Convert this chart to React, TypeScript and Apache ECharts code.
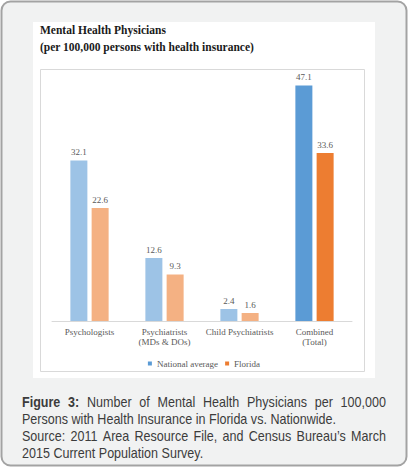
import React, { useEffect, useRef } from "react";
import * as echarts from "echarts";

// Physicians per 100,000 insured persons
const categories = ["Psychologists", "Psychiatrists\n(MDs & DOs)", "Child Psychiatrists", "Combined\n(Total)"];
const nationalAverage = [32.1, 12.6, 2.4, 47.1];
const florida = [22.6, 9.3, 1.6, 33.6];
const seriesNames = ["National average", "Florida"];

const titleLine1 = "Mental Health Physicians";
const titleLine2 = "(per 100,000 persons with health insurance)";

const captionLines = [
  { parts: [{ t: "Figure 3:", b: true }, { t: "Number of Mental Health Physicians per 100,000", b: false }], justify: true },
  { parts: [{ t: "Persons with Health Insurance in Florida vs. Nationwide.", b: false }], justify: false },
  { parts: [{ t: "Source: 2011 Area Resource File, and Census Bureau\u2019s March", b: false }], justify: true },
  { parts: [{ t: "2015 Current Population Survey.", b: false }], justify: false },
];

const SERIF_NAME = "Liberation Serif";
const SERIF = '"Liberation Serif", "DejaVu Serif", serif';
const SANS = '"Liberation Sans", Arial, sans-serif';
const CAP_SIZE = 14;
const CAP_COLOR = "#3c3c3c";
// caption block: left/right edges and the width of the second (unjustified) line
const CAP_X0 = 22;
const CAP_X1 = 386;
const CAP_LINE2_WIDTH = 314;

const blueFull = "#5b9bd5";
const blueLight = "#9dc3e6";
const orangeFull = "#ed7d31";
const orangeLight = "#f4b183";

function capFont(bold: boolean) {
  return `${bold ? "bold " : ""}${CAP_SIZE}px ${SANS}`;
}

function measure(ctx: CanvasRenderingContext2D, text: string, bold: boolean) {
  ctx.font = capFont(bold);
  return ctx.measureText(text).width;
}

function captionGraphics() {
  const canvas = document.createElement("canvas");
  const ctx = canvas.getContext("2d") as CanvasRenderingContext2D;
  // horizontally condensed face
  const scale = CAP_LINE2_WIDTH / measure(ctx, captionLines[1].parts[0].t, false);
  const avail = (CAP_X1 - CAP_X0) / scale;
  const children: any[] = [];
  captionLines.forEach((line, li) => {
    const y = 402 + li * 17;
    const words: { t: string; b: boolean }[] = [];
    line.parts.forEach((p) => p.t.split(" ").forEach((w) => words.push({ t: w, b: p.b })));
    const widths = words.map((w) => measure(ctx, w.t, w.b));
    const total = widths.reduce((a, b) => a + b, 0);
    const space = line.justify ? (avail - total) / (words.length - 1) : measure(ctx, " ", false);
    let x = 0;
    words.forEach((w, i) => {
      children.push({
        type: "text",
        x,
        y,
        style: { text: w.t, fill: CAP_COLOR, font: capFont(w.b), verticalAlign: "middle" },
      });
      x += widths[i] + space;
    });
  });
  return { type: "group", x: CAP_X0, y: 0, scaleX: scale, children };
}

export default function App() {
  const ref = useRef<HTMLDivElement>(null);

  useEffect(() => {
    if (!ref.current) return;
    const chart = echarts.init(ref.current, null, { renderer: "svg" });

    const itemData = (vals: number[], light: string, full: string) =>
      vals.map((v, i) => ({ value: v, itemStyle: { color: i === vals.length - 1 ? full : light } }));

    const labelStyle = {
      show: true,
      position: "top" as const,
      distance: 4,
      fontFamily: SERIF_NAME,
      fontSize: 9,
      color: "#595959",
    };

    chart.setOption({
      animation: false,
      backgroundColor: "transparent",
      textStyle: { fontFamily: SERIF_NAME },
      graphic: [
        {
          type: "rect",
          z: -10,
          shape: { x: 1.5, y: 1.5, width: 405, height: 464, r: 9 },
          style: { fill: "#f1f2f2", stroke: "#a3a3a3", lineWidth: 2 },
        },
        {
          type: "rect",
          z: -9,
          shape: { x: 33, y: 22, width: 342, height: 356 },
          style: { fill: "#ffffff" },
        },
        {
          type: "rect",
          z: -8,
          shape: { x: 40.5, y: 69.5, width: 324, height: 302 },
          style: { fill: "#ffffff", stroke: "#d9d9d9", lineWidth: 1 },
        },
        {
          type: "text",
          x: 40,
          y: 30,
          style: { text: titleLine1, font: `bold 11.5px ${SERIF}`, fill: "#1a1a1a", verticalAlign: "middle" },
        },
        {
          type: "text",
          x: 40,
          y: 47,
          style: { text: titleLine2, font: `bold 11.5px ${SERIF}`, fill: "#1a1a1a", verticalAlign: "middle" },
        },
        captionGraphics(),
      ],
      legend: {
        data: seriesNames,
        top: 354,
        left: "center",
        itemWidth: 4,
        itemHeight: 4,
        itemGap: 7,
        icon: "rect",
        textStyle: { fontFamily: SERIF_NAME, fontSize: 9, color: "#595959" },
      },
      grid: { left: 52, top: 71, width: 300, height: 250, containLabel: false },
      xAxis: {
        type: "category",
        data: categories,
        axisLine: { lineStyle: { color: "#d9d9d9" } },
        axisTick: { show: false },
        axisLabel: {
          fontFamily: SERIF_NAME,
          fontSize: 9,
          color: "#595959",
          margin: 6,
          lineHeight: 10,
          interval: 0,
        },
      },
      yAxis: { type: "value", min: 0, max: 50, show: false, splitLine: { show: false } },
      series: [
        {
          name: seriesNames[0],
          type: "bar",
          barWidth: 17,
          barGap: "25%",
          itemStyle: { color: blueFull },
          label: labelStyle,
          data: itemData(nationalAverage, blueLight, blueFull),
        },
        {
          name: seriesNames[1],
          type: "bar",
          barWidth: 17,
          barGap: "25%",
          itemStyle: { color: orangeFull },
          label: labelStyle,
          data: itemData(florida, orangeLight, orangeFull),
        },
      ],
    });

    return () => chart.dispose();
  }, []);

  return (
    <div
      ref={ref}
      style={{ position: "absolute", left: 0, top: 0, width: 408, height: 467 }}
    />
  );
}
